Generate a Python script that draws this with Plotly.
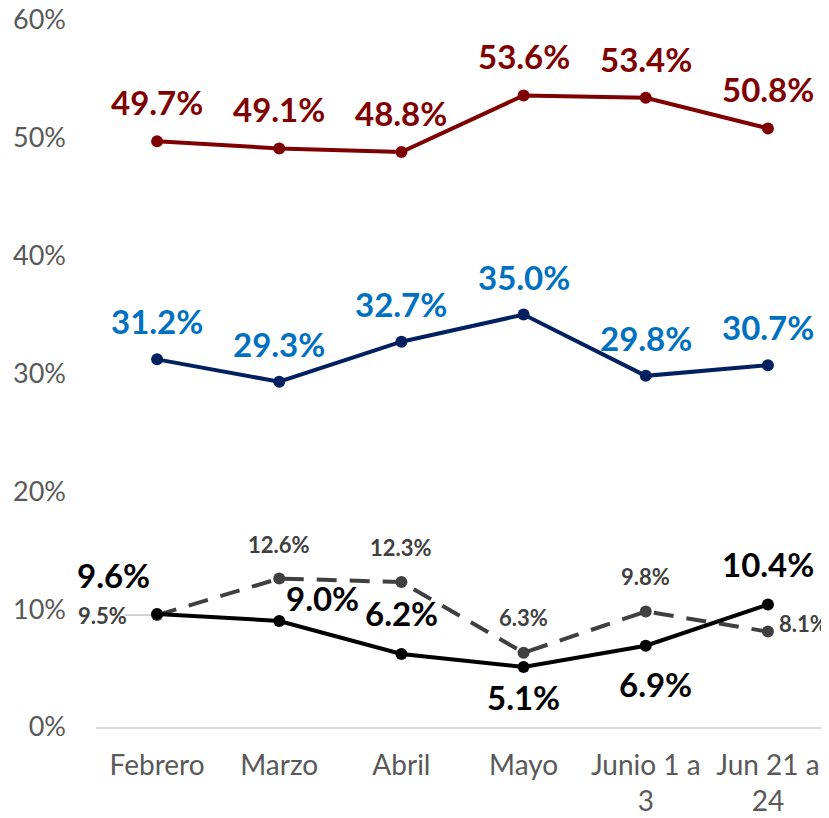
import plotly.graph_objects as go

categories = ["Febrero", "Marzo", "Abril", "Mayo", "Junio 1 a<br>3", "Jun 21 a<br>24"]
red_values = [49.7, 49.1, 48.8, 53.6, 53.4, 50.8]
blue_values = [31.2, 29.3, 32.7, 35.0, 29.8, 30.7]
black_values = [9.6, 9.0, 6.2, 5.1, 6.9, 10.4]
gray_values = [9.5, 12.6, 12.3, 6.3, 9.8, 8.1]
y_ticks = [0, 10, 20, 30, 40, 50, 60]

# label offsets (pixels) -- styling only
red_off = [(0, 39)] * 6
blue_off = [(0, 38)] * 6
black_off = [(-44, 39), (43, 23), (0, 41), (0, -30), (10, -38), (0, 40)]
gray_off = [(-55, 0), (0, 34), (0, 35), (0, 35), (0, 35), (36, 8)]

LABEL_FONT = "Lato"
fig = go.Figure()

series = [
    (red_values, "#7F0000", "solid", "#7F0000", red_off, 33),
    (blue_values, "#002060", "solid", "#0070C0", blue_off, 33),
    (gray_values, "#404040", "20px,13px", "#404040", gray_off, 22),
    (black_values, "#000000", "solid", "#000000", black_off, 33),
]

for vals, lc, dash, tc, offs, fs in series:
    fig.add_trace(go.Scatter(
        x=categories, y=vals, mode="lines+markers",
        line=dict(color=lc, width=4, dash=dash),
        marker=dict(color=lc, size=12),
        showlegend=False, hoverinfo="skip", cliponaxis=False,
    ))
    for c, v, (dx, dy) in zip(categories, vals, offs):
        fig.add_annotation(
            x=c, y=v, xref="x", yref="y", text=f"<b>{v:.1f}%</b>",
            showarrow=False, xshift=dx, yshift=dy,
            font=dict(family=LABEL_FONT, size=fs, color=tc),
        )

# leader line for first gray label
fig.add_annotation(
    x=categories[0], y=gray_values[0], xref="x", yref="y",
    ax=-34, ay=0, showarrow=True, arrowhead=0, arrowwidth=1,
    arrowcolor="#A6A6A6", text="", standoff=6,
)

fig.update_layout(
    width=821, height=810,
    margin=dict(l=88, r=0, t=12, b=91),
    paper_bgcolor="white", plot_bgcolor="white",
    xaxis=dict(
        type="category", range=[-0.5, 5.5], showgrid=False, automargin=False,
        showline=True, linecolor="#D9D9D9", linewidth=2,
        ticks="", tickfont=dict(family=LABEL_FONT, size=28, color="#595959"),
        ticklabelstandoff=12, ticklabeloverflow="allow",
    ),
    yaxis=dict(
        range=[0, 60], tickvals=y_ticks, ticktext=[f"{t}%" for t in y_ticks],
        showgrid=False, zeroline=False, showline=False, ticks="", automargin=False,
        tickfont=dict(family=LABEL_FONT, size=27, color="#595959"),
        ticklabelstandoff=29, ticklabeloverflow="allow",
    ),
)

fig.write_html("out.html")
